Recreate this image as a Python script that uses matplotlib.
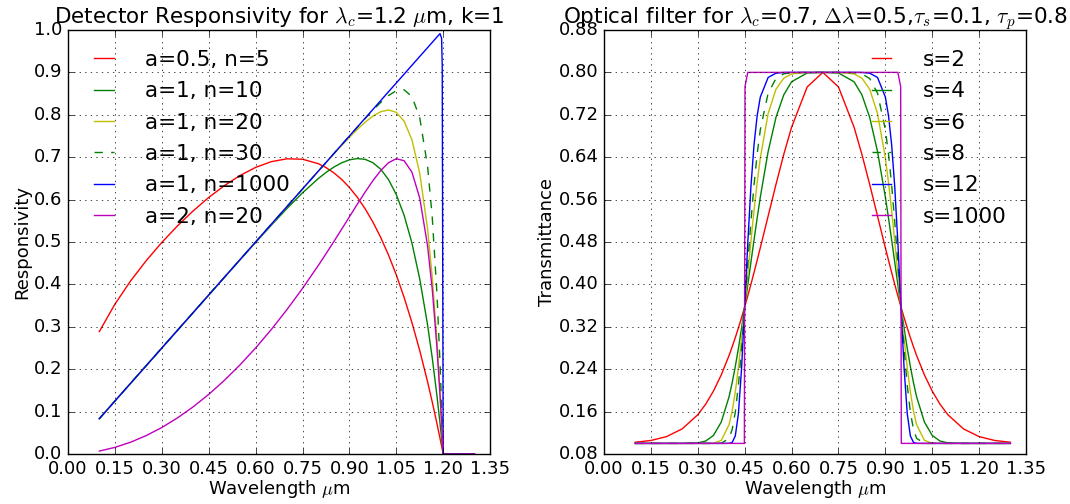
import matplotlib
matplotlib.use("Agg")
import matplotlib.pyplot as plt
from matplotlib.ticker import MultipleLocator, FormatStrFormatter

# old-school matplotlib look
plt.style.use("classic")

# ---- detector responsivity ----
det_wl = [0.1, 0.15, 0.2, 0.25, 0.3, 0.35, 0.4, 0.45, 0.5, 0.55, 0.6, 0.65, 0.7, 0.75, 0.8,
          0.825, 0.85, 0.875, 0.9, 0.925, 0.95, 0.975, 1.0, 1.025, 1.05, 1.075, 1.1, 1.125, 1.15,
          1.165, 1.18, 1.19, 1.195, 1.197, 1.2, 1.3]

det_a05_n5 = [0.2887, 0.3535, 0.4081, 0.4560, 0.4990, 0.5380, 0.5732, 0.6050, 0.6329, 0.6568,
              0.6759, 0.6894, 0.6962, 0.6952, 0.6848,
              0.6756, 0.6633, 0.6478, 0.6287, 0.6058, 0.5788, 0.5473, 0.5110, 0.4695, 0.4225,
              0.3695, 0.3102, 0.2441, 0.1706,
              0.1229, 0.0722, 0.0368, 0.0186, 0.0112, 0.0, 0.0]
det_a1_n10 = [0.0833, 0.1250, 0.1667, 0.2083, 0.2500, 0.2917, 0.3333, 0.3749, 0.4165, 0.4579,
              0.4990, 0.5395, 0.5788, 0.6159, 0.6493,
              0.6639, 0.6765, 0.6867, 0.6937, 0.6968, 0.6950, 0.6871, 0.6718, 0.6474, 0.6119,
              0.5630, 0.4978, 0.4130, 0.3050,
              0.2271, 0.1380, 0.0719, 0.0367, 0.0222, 0.0, 0.0]
det_a1_n20 = [0.0833, 0.1250, 0.1667, 0.2083, 0.2500, 0.2917, 0.3333, 0.3750, 0.4167, 0.4583,
              0.5000, 0.5417, 0.5833, 0.6249, 0.6664,
              0.6869, 0.7073, 0.7274, 0.7468, 0.7653, 0.7823, 0.7968, 0.8072, 0.8114, 0.8058,
              0.7850, 0.7412, 0.6624, 0.5314,
              0.4176, 0.2688, 0.1458, 0.0759, 0.0463, 0.0, 0.0]
det_a1_n30 = [0.0833, 0.1250, 0.1667, 0.2083, 0.2500, 0.2917, 0.3333, 0.3750, 0.4167, 0.4583,
              0.5000, 0.5417, 0.5833, 0.6250, 0.6667,
              0.6875, 0.7083, 0.7291, 0.7498, 0.7704, 0.7908, 0.8105, 0.8291, 0.8453, 0.8568,
              0.8590, 0.8432, 0.7932, 0.6794,
              0.5594, 0.3794, 0.2137, 0.1136, 0.0698, 0.0, 0.0]
det_a1_n1000 = [0.0833, 0.1250, 0.1667, 0.2083, 0.2500, 0.2917, 0.3333, 0.3750, 0.4167, 0.4583,
                0.5000, 0.5417, 0.5833, 0.6250, 0.6667,
                0.6875, 0.7083, 0.7292, 0.7500, 0.7708, 0.7917, 0.8125, 0.8333, 0.8542, 0.8750,
                0.8958, 0.9167, 0.9375, 0.9583,
                0.9708, 0.9833, 0.9914, 0.9805, 0.9157, 0.0, 0.0]
det_a2_n20 = [0.0069, 0.0156, 0.0278, 0.0434, 0.0625, 0.0851, 0.1111, 0.1406, 0.1736, 0.2101,
              0.2500, 0.2934, 0.3403, 0.3905, 0.4441,
              0.4721, 0.5007, 0.5299, 0.5593, 0.5887, 0.6174, 0.6444, 0.6684, 0.6869, 0.6964,
              0.6917, 0.6648, 0.6039, 0.4915,
              0.3893, 0.2524, 0.1375, 0.0718, 0.0438, 0.0, 0.0]

det_labels = ["a=0.5, n=5", "a=1, n=10", "a=1, n=20", "a=1, n=30", "a=1, n=1000", "a=2, n=20"]

# ---- optical filter transmittance ----
flt_wl = [0.1, 0.15, 0.2, 0.25, 0.3, 0.325, 0.35, 0.375, 0.4, 0.41, 0.42, 0.43, 0.44, 0.449,
          0.451, 0.46, 0.47, 0.48, 0.49, 0.5, 0.525, 0.55, 0.575, 0.6, 0.65, 0.7,
          0.75, 0.8, 0.825, 0.85, 0.875, 0.9, 0.91, 0.92, 0.93, 0.94, 0.949, 0.951, 0.96, 0.97,
          0.98, 0.99, 1.0, 1.025, 1.05, 1.075, 1.1, 1.15, 1.2, 1.25, 1.3]

flt_s2 = [0.1022, 0.1055, 0.1128, 0.1274, 0.1541, 0.1738, 0.1986, 0.2292, 0.2658, 0.2823,
          0.2997, 0.3180, 0.3373, 0.3555, 0.3596, 0.3785, 0.4003, 0.4227, 0.4457, 0.4691,
          0.5288, 0.5884, 0.6452, 0.6965, 0.7726, 0.8000,
          0.7726, 0.6965, 0.6452, 0.5884, 0.5288, 0.4691, 0.4457, 0.4227, 0.4003, 0.3785,
          0.3596, 0.3555, 0.3373, 0.3180, 0.2997, 0.2823, 0.2658, 0.2292, 0.1986, 0.1738,
          0.1541, 0.1274, 0.1128, 0.1055, 0.1022]
flt_s4 = [0.1000, 0.1000, 0.1000, 0.1000, 0.1010, 0.1044, 0.1150, 0.1402, 0.1880, 0.2145,
          0.2451, 0.2796, 0.3173, 0.3534, 0.3616, 0.3994, 0.4420, 0.4843, 0.5255, 0.5647,
          0.6506, 0.7149, 0.7576, 0.7823, 0.7989, 0.8000,
          0.7989, 0.7823, 0.7576, 0.7149, 0.6506, 0.5647, 0.5255, 0.4843, 0.4420, 0.3994,
          0.3616, 0.3534, 0.3173, 0.2796, 0.2451, 0.2145, 0.1880, 0.1402, 0.1150, 0.1044,
          0.1010, 0.1000, 0.1000, 0.1000, 0.1000]
flt_s6 = [0.1000, 0.1000, 0.1000, 0.1000, 0.1000, 0.1000, 0.1004, 0.1056, 0.1353, 0.1612,
          0.1972, 0.2432, 0.2975, 0.3513, 0.3637, 0.4200, 0.4817, 0.5400, 0.5926, 0.6386,
          0.7223, 0.7681, 0.7891, 0.7971, 0.8000, 0.8000,
          0.8000, 0.7971, 0.7891, 0.7681, 0.7223, 0.6386, 0.5926, 0.5400, 0.4817, 0.4200,
          0.3637, 0.3513, 0.2975, 0.2432, 0.1972, 0.1612, 0.1353, 0.1056, 0.1004, 0.1000,
          0.1000, 0.1000, 0.1000, 0.1000, 0.1000]
flt_s8 = [0.1000, 0.1000, 0.1000, 0.1000, 0.1000, 0.1000, 0.1000, 0.1002, 0.1095, 0.1264,
          0.1589, 0.2100, 0.2781, 0.3493, 0.3658, 0.4403, 0.5190, 0.5886, 0.6463, 0.6919,
          0.7608, 0.7883, 0.7973, 0.7995, 0.8000, 0.8000,
          0.8000, 0.7995, 0.7973, 0.7883, 0.7608, 0.6919, 0.6463, 0.5886, 0.5190, 0.4403,
          0.3658, 0.3493, 0.2781, 0.2100, 0.1589, 0.1264, 0.1095, 0.1002, 0.1000, 0.1000,
          0.1000, 0.1000, 0.1000, 0.1000, 0.1000]
flt_s12 = [0.1000, 0.1000, 0.1000, 0.1000, 0.1000, 0.1000, 0.1000, 0.1000, 0.1001, 0.1018,
           0.1142, 0.1564, 0.2412, 0.3452, 0.3699, 0.4793, 0.5846, 0.6642, 0.7187, 0.7535,
           0.7904, 0.7985, 0.7998, 0.8000, 0.8000, 0.8000,
           0.8000, 0.8000, 0.7998, 0.7985, 0.7904, 0.7535, 0.7187, 0.6642, 0.5846, 0.4793,
           0.3699, 0.3452, 0.2412, 0.1564, 0.1142, 0.1018, 0.1001, 0.1000, 0.1000, 0.1000,
           0.1000, 0.1000, 0.1000, 0.1000, 0.1000]
flt_s1000 = [0.1000, 0.1000, 0.1000, 0.1000, 0.1000, 0.1000, 0.1000, 0.1000, 0.1000, 0.1000,
             0.1000, 0.1000, 0.1000, 0.1000, 0.7733, 0.8000, 0.8000, 0.8000, 0.8000, 0.8000,
             0.8000, 0.8000, 0.8000, 0.8000, 0.8000, 0.8000,
             0.8000, 0.8000, 0.8000, 0.8000, 0.8000, 0.8000, 0.8000, 0.8000, 0.8000, 0.8000,
             0.7733, 0.1000, 0.1000, 0.1000, 0.1000, 0.1000, 0.1000, 0.1000, 0.1000, 0.1000,
             0.1000, 0.1000, 0.1000, 0.1000, 0.1000]

flt_labels = ["s=2", "s=4", "s=6", "s=8", "s=12", "s=1000"]

styles = ["r-", "g-", "y-", "g--", "b-", "m-"]

fig = plt.figure(figsize=(10.7, 5.04), dpi=100, facecolor="white")
ax1 = fig.add_axes([0.0636, 0.0992, 0.3944, 0.8413])
ax2 = fig.add_axes([0.5645, 0.0992, 0.3944, 0.8413])

det_curves = [det_a05_n5, det_a1_n10, det_a1_n20, det_a1_n30, det_a1_n1000, det_a2_n20]
for y, fmt, lab in zip(det_curves, styles, det_labels):
    ax1.plot(det_wl, y, fmt, label=lab)

flt_curves = [flt_s2, flt_s4, flt_s6, flt_s8, flt_s12, flt_s1000]
for y, fmt, lab in zip(flt_curves, styles, flt_labels):
    ax2.plot(flt_wl, y, fmt, label=lab)

ax1.set_xlim(0, 1.35)
ax1.set_ylim(0, 1.0)
ax1.yaxis.set_major_locator(MultipleLocator(0.1))
ax1.yaxis.set_major_formatter(FormatStrFormatter("%.1f"))
ax1.set_title(r"Detector Responsivity for $\lambda_c$=1.2 $\mu$m, k=1", fontsize=15.5, pad=5)
ax1.set_ylabel("Responsivity", fontsize=13, labelpad=2)

ax2.set_xlim(0, 1.35)
ax2.set_ylim(0.08, 0.88)
ax2.yaxis.set_major_locator(MultipleLocator(0.08))
ax2.yaxis.set_major_formatter(FormatStrFormatter("%.2f"))
ax2.set_title(r"Optical filter for $\lambda_c$=0.7, $\Delta\lambda$=0.5,$\tau_s$=0.1, $\tau_p$=0.8",
              fontsize=15.5, pad=5)
ax2.set_ylabel("Transmittance", fontsize=13, labelpad=2)

for ax in (ax1, ax2):
    ax.xaxis.set_major_locator(MultipleLocator(0.15))
    ax.xaxis.set_major_formatter(FormatStrFormatter("%.2f"))
    ax.set_xlabel(r"Wavelength $\mu$m", fontsize=13, labelpad=0)
    ax.tick_params(labelsize=13)
    ax.grid(True)

leg_kw = dict(frameon=False, fontsize=15.5, handlelength=1.5, handletextpad=1.15,
              labelspacing=0.53, borderaxespad=0.52)
ax1.legend(loc="upper left", **leg_kw)
ax2.legend(loc="upper right", **leg_kw)

fig.savefig("out.png", dpi=100, facecolor="white")
